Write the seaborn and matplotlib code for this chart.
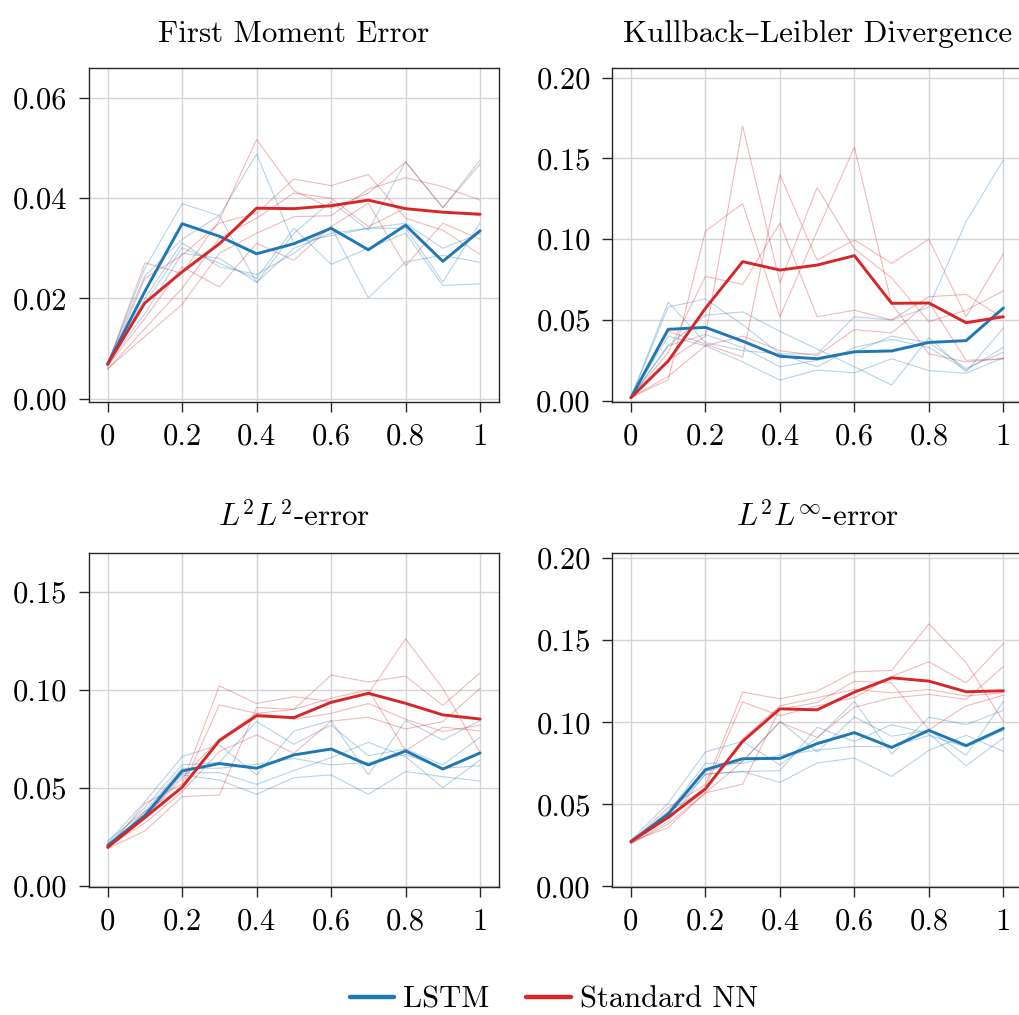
import numpy as np
import pandas as pd
import matplotlib
matplotlib.use("Agg")
import matplotlib.pyplot as plt
from matplotlib.lines import Line2D
import seaborn as sns

# ---------------------------------------------------------------- data
t = [0.0, 0.1, 0.2, 0.3, 0.4, 0.5, 0.6, 0.7, 0.8, 0.9, 1.0]
models = ["LSTM", "Standard NN"]

# First moment error
fme_lstm_runs = [
    [0.0070, 0.0260, 0.0389, 0.0365, 0.0232, 0.0330, 0.0393, 0.0336, 0.0473, 0.0381, 0.0476],
    [0.0072, 0.0245, 0.0318, 0.0365, 0.0488, 0.0310, 0.0325, 0.0340, 0.0340, 0.0233, 0.0351],
    [0.0068, 0.0200, 0.0311, 0.0263, 0.0248, 0.0290, 0.0343, 0.0201, 0.0273, 0.0286, 0.0272],
    [0.0066, 0.0190, 0.0301, 0.0270, 0.0240, 0.0340, 0.0268, 0.0300, 0.0330, 0.0226, 0.0229],
    [0.0069, 0.0170, 0.0290, 0.0280, 0.0232, 0.0300, 0.0330, 0.0340, 0.0350, 0.0300, 0.0330],
]
fme_nn_runs = [
    [0.0068, 0.0271, 0.0250, 0.0356, 0.0517, 0.0415, 0.0380, 0.0410, 0.0472, 0.0381, 0.0468],
    [0.0063, 0.0240, 0.0286, 0.0350, 0.0370, 0.0438, 0.0425, 0.0447, 0.0360, 0.0336, 0.0288],
    [0.0060, 0.0124, 0.0188, 0.0290, 0.0330, 0.0363, 0.0365, 0.0418, 0.0441, 0.0423, 0.0396],
    [0.0066, 0.0160, 0.0263, 0.0223, 0.0310, 0.0276, 0.0343, 0.0390, 0.0265, 0.0350, 0.0318],
    [0.0058, 0.0140, 0.0220, 0.0320, 0.0360, 0.0410, 0.0400, 0.0343, 0.0380, 0.0372, 0.0365],
]
fme_lstm_mean = [0.0069, 0.0214, 0.0349, 0.0324, 0.0289, 0.0309, 0.0340, 0.0297, 0.0346, 0.0274, 0.0335]
fme_nn_mean = [0.0069, 0.0191, 0.0253, 0.0309, 0.0380, 0.0379, 0.0385, 0.0396, 0.0379, 0.0372, 0.0368]

# Kullback-Leibler divergence
kl_lstm_runs = [
    [0.002, 0.061, 0.036, 0.031, 0.029, 0.029, 0.052, 0.050, 0.058, 0.111, 0.149],
    [0.002, 0.058, 0.063, 0.047, 0.029, 0.021, 0.033, 0.038, 0.033, 0.019, 0.033],
    [0.002, 0.034, 0.053, 0.055, 0.043, 0.032, 0.021, 0.0097, 0.039, 0.018, 0.045],
    [0.002, 0.040, 0.034, 0.024, 0.0128, 0.019, 0.0173, 0.026, 0.0186, 0.017, 0.0266],
    [0.002, 0.034, 0.041, 0.033, 0.021, 0.025, 0.030, 0.040, 0.036, 0.020, 0.030],
]
kl_nn_runs = [
    [0.002, 0.013, 0.105, 0.122, 0.052, 0.105, 0.157, 0.060, 0.029, 0.024, 0.026],
    [0.002, 0.025, 0.040, 0.170, 0.073, 0.132, 0.094, 0.076, 0.049, 0.056, 0.068],
    [0.002, 0.043, 0.035, 0.027, 0.140, 0.087, 0.0996, 0.085, 0.100, 0.052, 0.091],
    [0.002, 0.030, 0.077, 0.072, 0.110, 0.052, 0.056, 0.050, 0.0644, 0.0658, 0.051],
    [0.002, 0.015, 0.034, 0.040, 0.031, 0.028, 0.044, 0.042, 0.061, 0.025, 0.026],
]
kl_lstm_mean = [0.0019, 0.0442, 0.0454, 0.0369, 0.0275, 0.0260, 0.0303, 0.0308, 0.0361, 0.0372, 0.0574]
kl_nn_mean = [0.0019, 0.0246, 0.0572, 0.0861, 0.0809, 0.0840, 0.0898, 0.0603, 0.0605, 0.0483, 0.0520]

# L2L2 error
l2l2_lstm_runs = [
    [0.022, 0.043, 0.0659, 0.0719, 0.0566, 0.079, 0.0843, 0.0566, 0.0843, 0.0744, 0.0843],
    [0.021, 0.040, 0.0617, 0.063, 0.0838, 0.0722, 0.082, 0.0664, 0.0698, 0.0617, 0.0758],
    [0.020, 0.037, 0.0574, 0.0578, 0.0518, 0.0588, 0.0654, 0.0732, 0.0659, 0.0501, 0.0642],
    [0.020, 0.035, 0.0566, 0.054, 0.0467, 0.0552, 0.0566, 0.0467, 0.0583, 0.0557, 0.0535],
    [0.023, 0.038, 0.060, 0.060, 0.062, 0.065, 0.0617, 0.063, 0.067, 0.060, 0.0613],
]
l2l2_nn_runs = [
    [0.019, 0.042, 0.052, 0.102, 0.093, 0.0965, 0.094, 0.098, 0.126, 0.1007, 0.068],
    [0.019, 0.038, 0.050, 0.0923, 0.088, 0.090, 0.1075, 0.104, 0.107, 0.092, 0.1087],
    [0.020, 0.032, 0.048, 0.0685, 0.077, 0.0676, 0.084, 0.086, 0.080, 0.0838, 0.1007],
    [0.019, 0.028, 0.0455, 0.0464, 0.091, 0.090, 0.0957, 0.100, 0.069, 0.081, 0.079],
    [0.020, 0.035, 0.055, 0.075, 0.088, 0.085, 0.088, 0.093, 0.085, 0.0787, 0.082],
]
l2l2_lstm_mean = [0.0206, 0.0358, 0.0586, 0.0624, 0.0600, 0.0668, 0.0698, 0.0617, 0.0688, 0.0596, 0.0678]
l2l2_nn_mean = [0.0197, 0.0348, 0.0503, 0.0741, 0.0868, 0.0858, 0.0936, 0.0982, 0.0931, 0.0872, 0.0851]

# L2Linf error
l2linf_lstm_runs = [
    [0.028, 0.0507, 0.0819, 0.0884, 0.0741, 0.0904, 0.1128, 0.0807, 0.1031, 0.0986, 0.1073],
    [0.027, 0.046, 0.0700, 0.0762, 0.1006, 0.0819, 0.1033, 0.0915, 0.0951, 0.0799, 0.1128],
    [0.027, 0.043, 0.0684, 0.070, 0.0705, 0.097, 0.0884, 0.0986, 0.0931, 0.0735, 0.0904],
    [0.026, 0.0395, 0.0684, 0.070, 0.0634, 0.0752, 0.0782, 0.067, 0.0829, 0.0921, 0.0823],
    [0.027, 0.045, 0.075, 0.075, 0.080, 0.083, 0.0853, 0.085, 0.092, 0.085, 0.095],
]
l2linf_nn_runs = [
    [0.027, 0.048, 0.062, 0.1184, 0.1143, 0.119, 0.1308, 0.1316, 0.160, 0.1363, 0.1006],
    [0.027, 0.045, 0.060, 0.1124, 0.104, 0.110, 0.115, 0.128, 0.1369, 0.124, 0.148],
    [0.026, 0.038, 0.057, 0.0762, 0.100, 0.0908, 0.1092, 0.1149, 0.117, 0.114, 0.134],
    [0.027, 0.036, 0.057, 0.0623, 0.108, 0.112, 0.125, 0.124, 0.0955, 0.110, 0.1165],
    [0.028, 0.042, 0.058, 0.090, 0.110, 0.115, 0.120, 0.118, 0.120, 0.116, 0.118],
]
l2linf_lstm_mean = [0.0273, 0.0440, 0.0711, 0.0778, 0.0780, 0.0870, 0.0937, 0.0847, 0.0951, 0.0858, 0.0963]
l2linf_nn_mean = [0.0273, 0.0420, 0.0595, 0.0884, 0.1082, 0.1076, 0.1184, 0.1271, 0.1251, 0.1186, 0.1192]

titles = [
    "First Moment Error",
    "Kullback\u2013Leibler Divergence",
    r"$L^2L^2$-error",
    r"$L^2L^\infty$-error",
]
x_ticks = [0.0, 0.2, 0.4, 0.6, 0.8, 1.0]
x_tick_labels = ["0", "0.2", "0.4", "0.6", "0.8", "1"]
y_ticks = [
    [0.00, 0.02, 0.04, 0.06],
    [0.00, 0.05, 0.10, 0.15, 0.20],
    [0.00, 0.05, 0.10, 0.15],
    [0.00, 0.05, 0.10, 0.15, 0.20],
]
y_limits = [(-0.0006, 0.0659), (-0.0006, 0.2058), (-0.0004, 0.1696), (-0.0002, 0.2030)]

panels = [
    (fme_lstm_runs, fme_nn_runs, fme_lstm_mean, fme_nn_mean),
    (kl_lstm_runs, kl_nn_runs, kl_lstm_mean, kl_nn_mean),
    (l2l2_lstm_runs, l2l2_nn_runs, l2l2_lstm_mean, l2l2_nn_mean),
    (l2linf_lstm_runs, l2linf_nn_runs, l2linf_lstm_mean, l2linf_nn_mean),
]

# ---------------------------------------------------------------- style
sns.set_theme(style="whitegrid")
plt.rcParams.update({
    "font.family": ["cmr10", "DejaVu Serif"],
    "mathtext.fontset": "cm",
    "axes.formatter.use_mathtext": True,
    "font.size": 22,
    "text.color": "black",
    "axes.titlecolor": "black",
    "axes.edgecolor": "#262626",
    "axes.linewidth": 1.0,
    "grid.color": "#d4d4d4",
    "grid.linewidth": 1.0,
    "xtick.bottom": True,
    "ytick.left": True,
    "xtick.direction": "out",
    "ytick.direction": "out",
    "xtick.major.size": 7.5,
    "ytick.major.size": 7.5,
    "xtick.major.width": 1.0,
    "ytick.major.width": 1.0,
    "xtick.color": "#262626",
    "ytick.color": "#262626",
    "xtick.labelcolor": "black",
    "ytick.labelcolor": "black",
    "xtick.major.pad": 8,
    "ytick.major.pad": 8,
    "xtick.labelsize": 22,
    "ytick.labelsize": 22,
})
palette = {"LSTM": "#1f77b4", "Standard NN": "#d62728"}


def long_runs(lstm_runs, nn_runs):
    rows = []
    for model, runs in zip(models, [lstm_runs, nn_runs]):
        for r, run in enumerate(runs):
            for ti, v in zip(t, run):
                rows.append({"t": ti, "value": v, "model": model, "run": r})
    return pd.DataFrame(rows)


def long_mean(lstm_mean, nn_mean):
    rows = []
    for model, series in zip(models, [lstm_mean, nn_mean]):
        for ti, v in zip(t, series):
            rows.append({"t": ti, "value": v, "model": model})
    return pd.DataFrame(rows)


# ---------------------------------------------------------------- figure
W, H = 1019, 1015
fig = plt.figure(figsize=(W / 100, H / 100), dpi=100)
ax_w, ax_h = 409.7 / W, 333.4 / H
lefts = [89 / W, 612.3 / W]
bottoms = [(H - 401.7) / H, (H - 886.7) / H]

for i, (lstm_runs, nn_runs, lstm_mean, nn_mean) in enumerate(panels):
    row, col = divmod(i, 2)
    ax = fig.add_axes([lefts[col], bottoms[row], ax_w, ax_h])

    sns.lineplot(data=long_runs(lstm_runs, nn_runs), x="t", y="value",
                 hue="model", units="run", estimator=None, palette=palette,
                 linewidth=0.8, alpha=0.32, legend=False, ax=ax)
    sns.lineplot(data=long_mean(lstm_mean, nn_mean), x="t", y="value",
                 hue="model", palette=palette, errorbar=None,
                 linewidth=2.1, legend=False, ax=ax)

    ax.set_xlim(-0.05, 1.05)
    ax.set_ylim(*y_limits[i])
    ax.set_xticks(x_ticks)
    ax.set_xticklabels(x_tick_labels)
    ax.set_yticks(y_ticks[i])
    ax.set_yticklabels([f"{v:.2f}" for v in y_ticks[i]])
    ax.set_xlabel("")
    ax.set_ylabel("")
    ax.set_title(titles[i], fontsize=22.3, pad=19, color="black")
    for s in ax.spines.values():
        s.set_visible(True)
        s.set_color("#262626")
        s.set_linewidth(1.0)

handles = [Line2D([], [], color=palette[m], linewidth=3.2) for m in models]
leg = fig.legend(handles, models, loc="center", bbox_to_anchor=(0.5437, 15 / H),
                 ncol=2, frameon=False, fontsize=22, handlelength=1.45,
                 handletextpad=0.3, columnspacing=1.2)
for txt in leg.get_texts():
    txt.set_color("black")

fig.savefig("out.png", dpi=100)
